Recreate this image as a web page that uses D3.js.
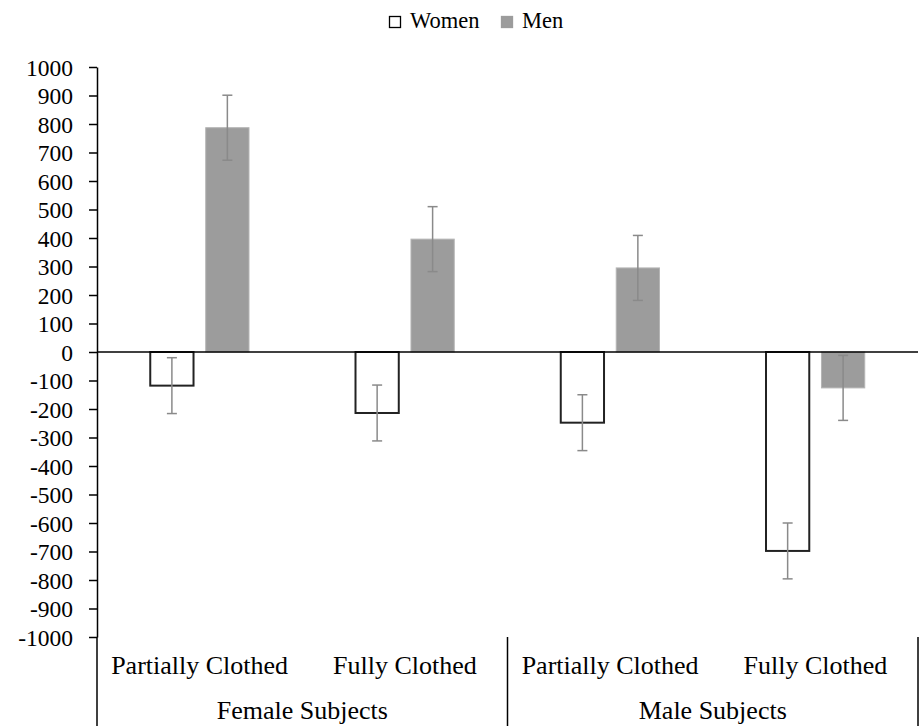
<!DOCTYPE html>
<html>
<head>
<meta charset="utf-8">
<script src="https://cdn.jsdelivr.net/npm/d3@7"></script>
<style>
  body { margin: 0; background: #fff; }
  svg text { font-family: "Liberation Serif", "Times New Roman", serif; fill: #000; }
</style>
</head>
<body>
<div id="chart"></div>
<script>
// data
const groups = ["Female Subjects", "Male Subjects"];
const conditions = ["Partially Clothed", "Fully Clothed"];
const seriesNames = ["Women", "Men"];
const women = [-118, -214, -248, -698];
const men = [787, 396, 295, -126];
const womenErr = [98, 98, 98, 98];
const menErr = [114, 114, 114, 114];
const yTicks = d3.range(-1000, 1001, 100);

const width = 920, height = 726,
    mLeft = 97, mRight = 918, mTop = 67, mBottom = 637;

const svg = d3.select("#chart").append("svg")
    .attr("width", width)
    .attr("height", height);

const cats = [];
groups.forEach((g, gi) => conditions.forEach((c, ci) => cats.push({g: g, c: c, i: gi * 2 + ci})));

const x0 = d3.scaleBand().domain(d3.range(cats.length)).range([mLeft, mRight]).paddingInner(0).paddingOuter(0);
const x1 = d3.scaleBand().domain(seriesNames).range([0, x0.bandwidth()]).paddingInner(0.22).paddingOuter(0.96);
const y = d3.scaleLinear().domain([-1000, 1000]).range([mBottom, mTop]);

// y axis
const yAxis = svg.append("g")
    .attr("transform", `translate(${mLeft},0)`)
    .call(d3.axisLeft(y).tickValues(yTicks).tickFormat(d => String(d))
        .tickSize(8).tickPadding(16).tickSizeOuter(0))
    .attr("font-family", "Liberation Serif, serif")
    .attr("font-size", 23.5);
yAxis.select(".domain").attr("stroke", "#000").attr("stroke-width", 1.5);
yAxis.selectAll(".tick line").attr("stroke", "#000").attr("stroke-width", 1.5);
yAxis.selectAll(".tick text").attr("fill", "#000").attr("dy", "0.34em");

const rows = [];
cats.forEach((d, i) => {
    rows.push({s: "Women", i: i, v: women[i], e: womenErr[i]});
    rows.push({s: "Men", i: i, v: men[i], e: menErr[i]});
});

svg.selectAll("rect.bar").data(rows).enter().append("rect")
    .attr("class", "bar")
    .attr("x", d => x0(d.i) + x1(d.s))
    .attr("width", x1.bandwidth())
    .attr("y", d => y(Math.max(0, d.v)))
    .attr("height", d => Math.abs(y(d.v) - y(0)))
    .attr("fill", d => d.s === "Women" ? "#fff" : "#9c9c9c")
    .attr("stroke", d => d.s === "Women" ? "#222" : "#b5b5b5")
    .attr("stroke-width", d => d.s === "Women" ? 2 : 1);

// zero line
svg.append("line")
    .attr("x1", mLeft).attr("x2", mRight)
    .attr("y1", y(0)).attr("y2", y(0))
    .attr("stroke", "#000").attr("stroke-width", 1.5);

// error bars
const eb = svg.selectAll("g.err").data(rows).enter().append("g")
    .attr("class", "err")
    .attr("transform", d => `translate(${x0(d.i) + x1(d.s) + x1.bandwidth() / 2},0)`)
    .attr("stroke", "#8a8a8a").attr("stroke-width", 1.5);
eb.append("line").attr("y1", d => y(d.v + d.e)).attr("y2", d => y(d.v - d.e));
eb.append("line").attr("x1", -5).attr("x2", 5).attr("y1", d => y(d.v + d.e)).attr("y2", d => y(d.v + d.e));
eb.append("line").attr("x1", -5).attr("x2", 5).attr("y1", d => y(d.v - d.e)).attr("y2", d => y(d.v - d.e));

// category labels
svg.selectAll("text.cond").data(cats).enter().append("text")
    .attr("class", "cond")
    .attr("x", d => x0(d.i) + x0.bandwidth() / 2)
    .attr("y", 674)
    .attr("text-anchor", "middle")
    .style("font-size", "26px")
    .text(d => d.c);

svg.selectAll("text.grp").data(groups).enter().append("text")
    .attr("class", "grp")
    .attr("x", (d, i) => x0(i * 2) + x0.bandwidth())
    .attr("y", 719)
    .attr("text-anchor", "middle")
    .style("font-size", "26px")
    .text(d => d);

// group separators
svg.selectAll("line.sep").data([0, 2, 4]).enter().append("line")
    .attr("class", "sep")
    .attr("x1", d => d === 4 ? mRight : x0(d)).attr("x2", d => d === 4 ? mRight : x0(d))
    .attr("y1", mBottom).attr("y2", height)
    .attr("stroke", "#000").attr("stroke-width", 1.5);

// legend
const legend = svg.append("g").attr("transform", "translate(389,16)");
const legendX = [0, 112];
seriesNames.forEach((s, i) => {
    const lg = legend.append("g").attr("transform", `translate(${legendX[i]},0)`);
    lg.append("rect")
        .attr("x", 0.5).attr("y", 0.5)
        .attr("width", 11).attr("height", 11)
        .attr("fill", s === "Women" ? "#fff" : "#9c9c9c")
        .attr("stroke", s === "Women" ? "#000" : "#9c9c9c")
        .attr("stroke-width", 1.3);
    lg.append("text")
        .attr("x", 21).attr("y", 12)
        .style("font-size", "22.5px")
        .text(s);
});
</script>
</body>
</html>
